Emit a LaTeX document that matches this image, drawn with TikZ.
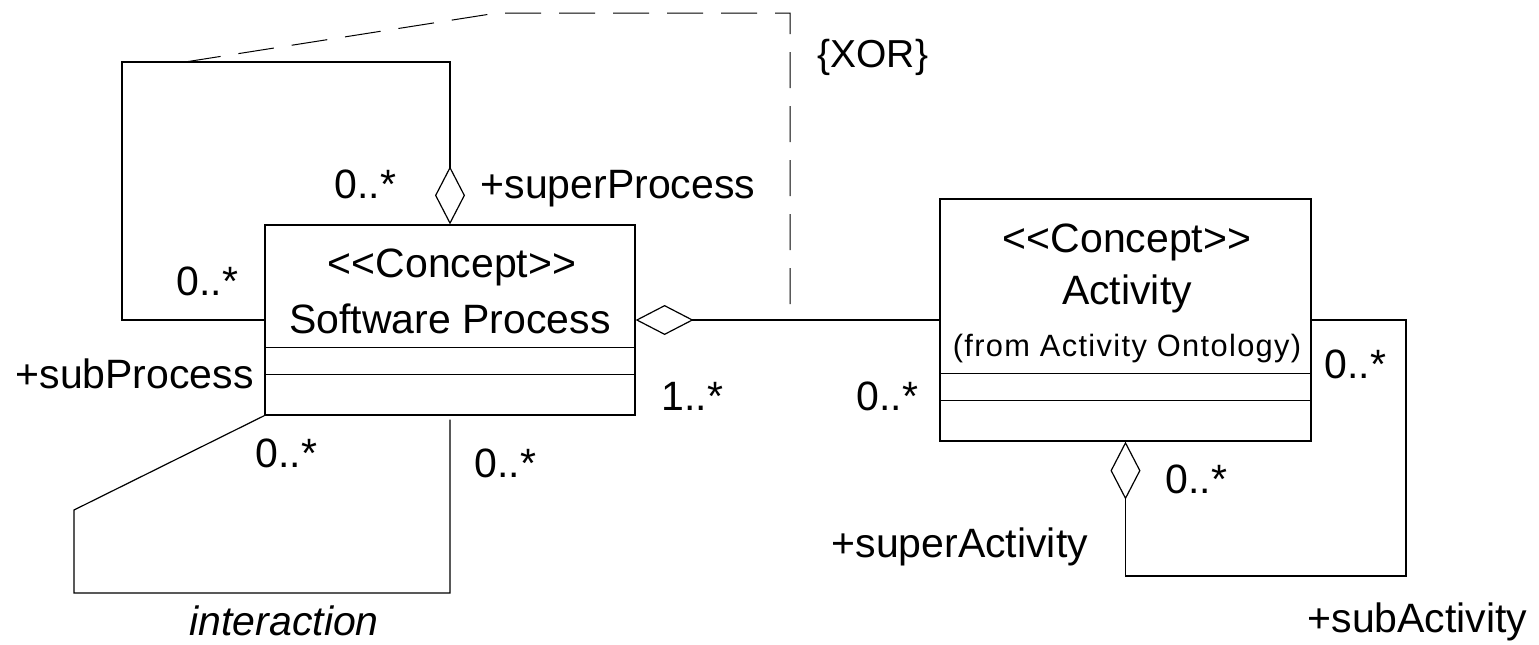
\documentclass[tikz,border=0pt]{standalone}
\usepackage{fontspec}
\setmainfont{Liberation Sans}[Ligatures=TeXOff]
\newfontfamily\fromfont{Liberation Sans}[LetterSpace=4.4,Ligatures=TeXOff]
\usetikzlibrary{arrows.meta}

\tikzset{
  classbox/.style={draw, inner sep=0pt},
  lbl/.style={anchor=base west, inner sep=0pt, font=\fontsize{20.5}{24}\selectfont},
  cname/.style={anchor=base, inner sep=0pt, font=\fontsize{20.5}{24}\selectfont},
  aggr/.style={{Diamond[open, length=29pt, width=15pt]}-},
  xorline/.style={line width=0.5pt, dash pattern=on 18pt off 9pt}
}

\begin{document}
\begin{tikzpicture}[x=0.5pt,y=-0.5pt,line width=0.6pt]
\useasboundingbox (0,0) rectangle (1539,644);
% Software Process
\node[classbox, minimum width=185pt, minimum height=95pt] (sp) at (450,320) {};
\draw ([yshift=-61.5pt]sp.north west) -- ([yshift=-61.5pt]sp.north east);
\draw ([yshift=-75pt]sp.north west) -- ([yshift=-75pt]sp.north east);
\node[cname] (spst) at (452,277) {<<Concept>>};
\node[cname] (spname) at (450,333) {Software Process};
% Activity
\node[classbox, minimum width=185.5pt, minimum height=121pt] (act) at (1125.5,320) {};
\draw ([yshift=-87.5pt]act.north west) -- ([yshift=-87.5pt]act.north east);
\draw ([yshift=-101pt]act.north west) -- ([yshift=-101pt]act.north east);
\node[cname] (actst) at (1127,252) {<<Concept>>};
\node[cname] (actname) at (1127,304) {Activity};
\node[cname, font=\fromfont\fontsize{15.4}{18}\selectfont] (actfrom) at (1127,356) {(from Activity Ontology)};
% associations
\coordinate (sploop) at (122,62);
\draw[aggr] (sp.north) |- (sploop) |- (sp.west);
\draw[aggr] (sp.east) -- (act.west);
\coordinate (actloop) at (1406,576);
\draw[aggr] (act.south) |- (actloop) |- (act.east);
\coordinate (ia) at (74,510);
\coordinate (ib) at (74,593);
\draw[shorten >=2pt] (sp.south west) -- (ia) -- (ib) -| (sp.south);
% xor constraint
\coordinate (xora) at (185,62);
\coordinate (xorb) at (497,13);
\coordinate (xorc) at (790,13);
\coordinate (xord) at (790,320);
\draw[xorline] (xora) -- (xorb) -- (xorc) -- (xord);
\node[lbl, font=\fontsize{19.5}{23}\selectfont] (xor) at (817,67) {\{XOR\}};
% roles and multiplicities
\node[lbl] (m1) at (334,198) {0..*};
\node[lbl] (super) at (480,198) {+superProcess};
\node[lbl] (m2) at (176,295) {0..*};
\node[lbl] (sub) at (15,388) {+subProcess};
\node[lbl] (m3) at (661,410) {1..*};
\node[lbl] (m4) at (255,467) {0..*};
\node[lbl] (m5) at (474,477) {0..*};
\node[lbl, font=\fontsize{20.5}{24}\selectfont\itshape] (inter) at (189,635) {interaction};
\node[lbl] (m6) at (856,410) {0..*};
\node[lbl] (m7) at (1324,378) {0..*};
\node[lbl] (m8) at (1165,493) {0..*};
\node[lbl] (supera) at (831,557) {+superActivity};
\node[lbl] (suba) at (1307,632) {+subActivity};
\end{tikzpicture}
\end{document}
